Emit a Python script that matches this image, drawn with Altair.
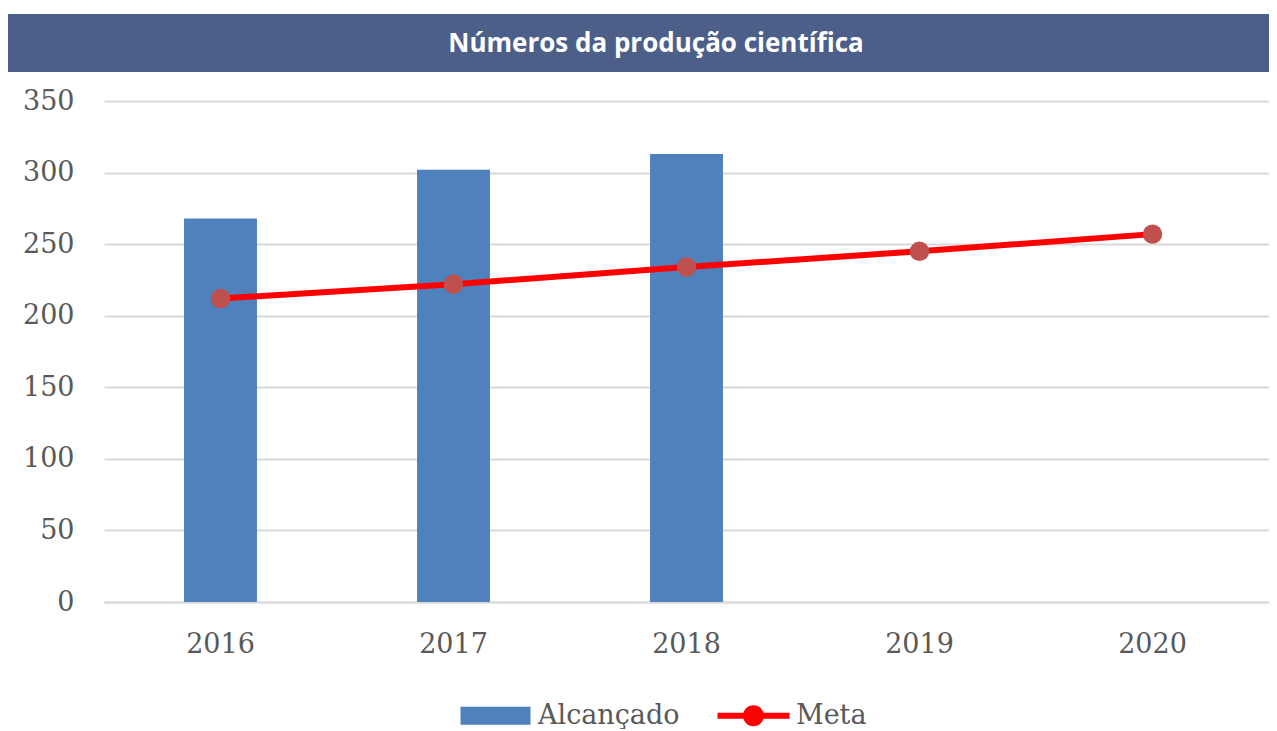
import altair as alt
import pandas as pd

years = ["2016", "2017", "2018", "2019", "2020"]
alcancado = [268, 302, 313, None, None]
meta = [212, 222, 234, 245, 257]
series_names = ["Alcançado", "Meta"]
title_text = "Números da produção científica"
y_ticks = [0, 50, 100, 150, 200, 250, 300, 350]

rows = []
for y, a, m in zip(years, alcancado, meta):
    if a is not None:
        rows.append({"ano": y, "serie": "Alcançado", "valor": a})
    rows.append({"ano": y, "serie": "Meta", "valor": m})
df = pd.DataFrame(rows)

LEFT = 96
W = 1165
H = 501
SERIF = "DejaVu Serif"
GREY = "#595959"

rect_path = "M-3.5,-0.9L3.5,-0.9L3.5,0.9L-3.5,0.9Z"
meta_path = ("M-3.6,-0.3L3.6,-0.3L3.6,0.3L-3.6,0.3Z"
             "M1.05,0A1.05,1.05 0 1,1 -1.05,0A1.05,1.05 0 1,1 1.05,0Z")

x_enc = alt.X("ano:O", sort=years,
              scale=alt.Scale(domain=years, paddingInner=0.687, paddingOuter=0.3435),
              axis=alt.Axis(title=None, labelAngle=0, labelFont=SERIF, labelFontSize=27,
                            labelColor=GREY, labelPadding=29, ticks=False, grid=False,
                            domain=True, domainColor="#d9d9d9", domainWidth=2))
y_enc = alt.Y("valor:Q",
              scale=alt.Scale(domain=[0, 350], nice=False),
              axis=alt.Axis(title=None, values=y_ticks, labelFont=SERIF, labelFontSize=27,
                            labelColor=GREY, labelPadding=30, ticks=False, domain=False,
                            grid=True, gridColor="#d9d9d9", gridWidth=2))
color_enc = alt.Color("serie:N",
                      scale=alt.Scale(domain=series_names, range=["#4f81bd", "#ff0000"]),
                      legend=alt.Legend(
                          title=None, orient="none", legendX=378, legendY=601,
                          direction="horizontal", padding=0, columnPadding=37,
                          labelFont=SERIF, labelFontSize=27, labelColor=GREY, labelOffset=29,
                          symbolSize=400, symbolStrokeWidth=0,
                          symbolType=alt.ExprRef(
                              "datum.value == 'Meta' ? '" + meta_path + "' : '" + rect_path + "'"),
                      ))

base = alt.Chart(df)

bars = base.transform_filter(alt.datum.serie == "Alcançado").mark_bar().encode(
    x=x_enc, y=y_enc, color=color_enc)

line = base.transform_filter(alt.datum.serie == "Meta").mark_line(strokeWidth=6).encode(
    x=x_enc, y=y_enc, color=color_enc)

points = base.transform_filter(alt.datum.serie == "Meta").mark_circle(
    size=380, opacity=1, color="#c0504d").encode(x=x_enc, y=y_enc)

banner_df = pd.DataFrame({"t": [title_text]})
banner = alt.Chart(banner_df).mark_rect(color="#4b5f89").encode(
    x=alt.value(-LEFT), x2=alt.value(W), y=alt.value(-87), y2=alt.value(-29))
title = alt.Chart(banner_df).mark_text(
    font="Open Sans", fontSize=26, fontWeight="bold", color="white",
    align="center", baseline="middle").encode(
    text="t:N", x=alt.value(552), y=alt.value(-57))

chart = alt.layer(banner, title, bars, line, points).properties(
    width=W, height=H, padding={"top": 6, "left": 0, "right": 0, "bottom": 0}
).configure_view(stroke=None)

chart.save("out.html", embed_options={"renderer": "svg", "actions": False})
